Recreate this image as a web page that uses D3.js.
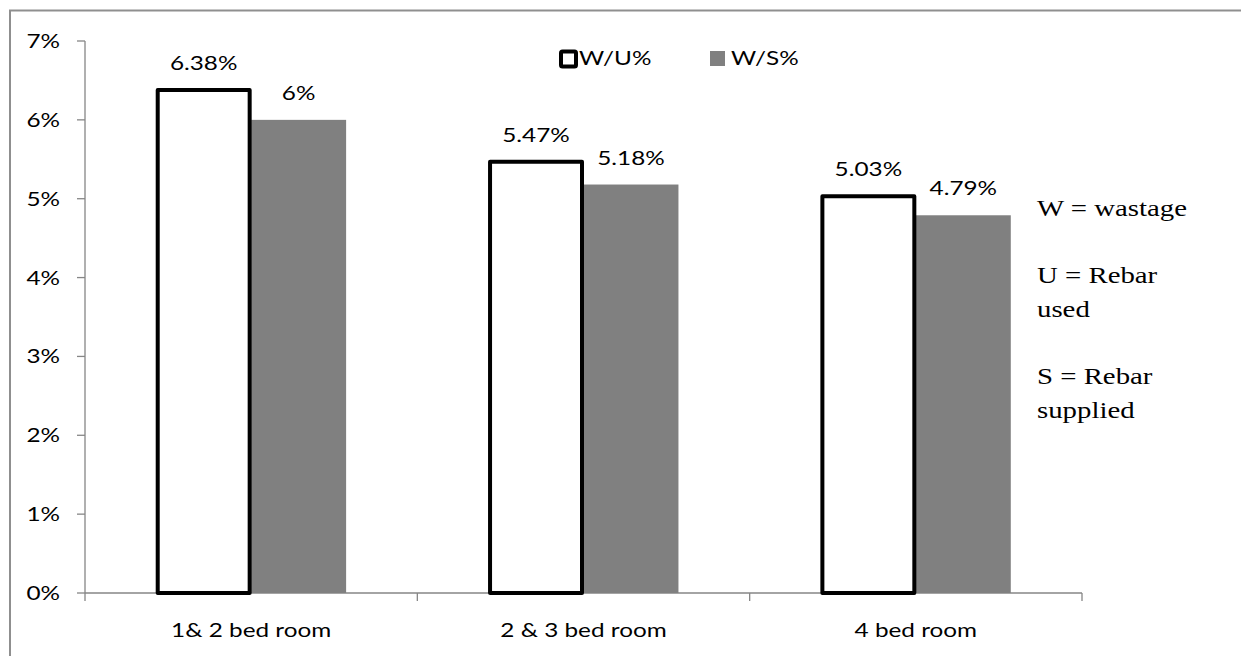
<!DOCTYPE html>
<html>
<head>
<meta charset="utf-8">
<script src="https://cdn.jsdelivr.net/npm/d3@7"></script>
<style>
  html, body { margin: 0; padding: 0; background: #fff; }
  svg { display: block; }
</style>
</head>
<body>
<svg id="chart" width="1241" height="656"></svg>
<script>
// Rebar wastage by house type
const categories = ["1& 2 bed room", "2 & 3 bed room", "4 bed room"];
const seriesNames = ["W/U%", "W/S%"];
const wastageOverUsed = [6.38, 5.47, 5.03];
const wastageOverSupplied = [6, 5.18, 4.79];
const valueLabels = [["6.38%", "5.47%", "5.03%"], ["6%", "5.18%", "4.79%"]];
const yTicks = [0, 1, 2, 3, 4, 5, 6, 7];
const notes = [["W = wastage"], ["U = Rebar", "used"], ["S = Rebar", "supplied"]];

const seriesValues = [wastageOverUsed, wastageOverSupplied];

const svg = d3.select("#chart");
const W = 1241, H = 656;
const FONT = "Lato, 'Open Sans', sans-serif";
const FS = 19;            // chart lettering size
const SX = 1.28;          // horizontal stretch of the chart lettering
const AXIS = "#868686";

// outer frame
svg.append("rect")
  .attr("x", 10).attr("y", 10.5)
  .attr("width", W + 20).attr("height", H + 20)
  .attr("fill", "none").attr("stroke", "#8f8f8f").attr("stroke-width", 2);

const plot = { left: 85, right: 1082, top: 41, bottom: 593 };

const y = d3.scaleLinear().domain([0, 7]).range([plot.bottom, plot.top]);
const x0 = d3.scaleBand().domain(categories).range([plot.left, plot.right]).padding(0);
// gap width of 150% of a bar: 2 bars + 1.5 bar gap per category
const bw = x0.bandwidth() / 3.5;
const x1 = d3.scaleBand().domain(seriesNames)
  .range([0.75 * bw, 2.75 * bw]).padding(0);

function stretchedText(g, x, yy, txt, anchor, size, family, sx) {
  return g.append("text")
    .attr("transform", `translate(${x},${yy}) scale(${sx},1)`)
    .attr("text-anchor", anchor)
    .attr("font-family", family)
    .attr("font-size", size)
    .attr("fill", "#000")
    .text(txt);
}

// y axis
const gy = svg.append("g");
gy.append("line")
  .attr("x1", plot.left).attr("x2", plot.left)
  .attr("y1", y(7)).attr("y2", y(0))
  .attr("stroke", AXIS).attr("stroke-width", 1.3);
yTicks.forEach(t => {
  gy.append("line")
    .attr("x1", plot.left - 8).attr("x2", plot.left)
    .attr("y1", y(t)).attr("y2", y(t))
    .attr("stroke", AXIS).attr("stroke-width", 1.3);
  stretchedText(gy, plot.left - 25, y(t) + 7, t + "%", "end", FS, FONT, SX);
});

// x axis
const gx = svg.append("g");
gx.append("line")
  .attr("x1", plot.left).attr("x2", plot.right)
  .attr("y1", y(0)).attr("y2", y(0))
  .attr("stroke", AXIS).attr("stroke-width", 1.3);
const bounds = categories.map(c => x0(c)).concat([plot.right]);
bounds.forEach(b => {
  gx.append("line")
    .attr("x1", b).attr("x2", b)
    .attr("y1", y(0)).attr("y2", y(0) + 8)
    .attr("stroke", AXIS).attr("stroke-width", 1.3);
});
categories.forEach(c => {
  stretchedText(gx, x0(c) + x0.bandwidth() / 2, 637, c, "middle", FS, FONT, SX);
});

// bars: gray (supplied) underneath, outlined (used) on top
const gBars = svg.append("g");
categories.forEach((c, i) => {
  const v = wastageOverSupplied[i];
  gBars.append("rect")
    .attr("x", x0(c) + x1("W/S%"))
    .attr("y", y(v))
    .attr("width", x1.bandwidth())
    .attr("height", y(0) - y(v))
    .attr("fill", "#808080");
});
categories.forEach((c, i) => {
  const v = wastageOverUsed[i];
  gBars.append("rect")
    .attr("x", x0(c) + x1("W/U%") + 1.5)
    .attr("y", y(v))
    .attr("width", x1.bandwidth() - 3)
    .attr("height", y(0) - y(v))
    .attr("fill", "#fff")
    .attr("stroke", "#000")
    .attr("stroke-width", 4)
    .attr("stroke-linejoin", "round");
});

// value labels
const gLab = svg.append("g");
seriesNames.forEach((s, si) => {
  categories.forEach((c, i) => {
    const v = seriesValues[si][i];
    stretchedText(gLab, x0(c) + x1(s) + x1.bandwidth() / 2, y(v) - 20,
      valueLabels[si][i], "middle", FS, FONT, SX);
  });
});

// legend
const gLeg = svg.append("g");
gLeg.append("rect")
  .attr("x", 561).attr("y", 51.5).attr("width", 15).attr("height", 15)
  .attr("fill", "#fff").attr("stroke", "#000").attr("stroke-width", 4)
  .attr("rx", 1.5);
stretchedText(gLeg, 579, 65, seriesNames[0], "start", FS, FONT, SX);
gLeg.append("rect")
  .attr("x", 710).attr("y", 51).attr("width", 15).attr("height", 15)
  .attr("fill", "#808080");
stretchedText(gLeg, 731, 65, seriesNames[1], "start", FS, FONT, SX);

// notes on the right
const gNotes = svg.append("g");
const SERIF = "'Liberation Serif', 'Times New Roman', serif";
let base = 216;
notes.forEach(par => {
  par.forEach((line, li) => {
    stretchedText(gNotes, 1037, base + li * 34, line, "start", 24, SERIF, 1.2);
  });
  base += (par.length - 1) * 34 + 67;
});
</script>
</body>
</html>
